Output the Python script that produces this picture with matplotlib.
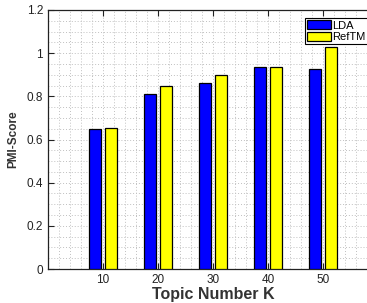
import numpy as np
from matplotlib import pyplot as plt
from matplotlib.ticker import MultipleLocator

topics = [10, 20, 30, 40, 50]
lda = [0.65, 0.81, 0.86, 0.935, 0.925]
reftm = [0.655, 0.847, 0.898, 0.935, 1.028]

plt.rcParams['font.family'] = ['Liberation Sans', 'DejaVu Sans']

fig = plt.figure(figsize=(3.67, 3.03), dpi=100)
# axes runs past the right edge, like the cropped original
ax = fig.add_axes([48 / 367, 1 - 269 / 303, 330 / 367, 259 / 303])

x = np.array(topics)
w = 2.25
ax.bar(x - 1.4, lda, w, color='#0000ff', edgecolor='black', linewidth=0.9, label='LDA', zorder=3)
ax.bar(x + 1.4, reftm, w, color='#ffff00', edgecolor='black', linewidth=0.9, label='RefTM', zorder=3)

ax.set_xlim(0, 60)
ax.set_ylim(0, 1.2)
ax.set_xticks(topics)
ax.set_yticks([0, 0.2, 0.4, 0.6, 0.8, 1.0, 1.2])
ax.set_yticklabels(['0', '0.2', '0.4', '0.6', '0.8', '1', '1.2'])
ax.xaxis.set_minor_locator(MultipleLocator(2))
ax.yaxis.set_minor_locator(MultipleLocator(0.05))
ax.grid(True, which='both', linestyle=(0, (1, 2)), color='#c0c0c0', linewidth=0.7, zorder=0)
ax.tick_params(which='major', direction='in', length=4, labelsize=8.5, color='#222222',
               top=True, right=True, labelcolor='#222222')
ax.tick_params(which='minor', length=0)
for s in ax.spines.values():
    s.set_color('#222222')
    s.set_linewidth(0.9)

ax.set_xlabel('Topic Number K', fontsize=11.5, fontweight='bold', color='#333333', labelpad=1)
ax.set_ylabel('PMI-Score', fontsize=8.5, fontweight='bold', color='#333333', labelpad=5)

leg = ax.legend(loc='upper left', bbox_to_anchor=(257 / 330, 1 - 8 / 259), fontsize=8,
                handlelength=2.1, handleheight=0.9, handletextpad=0.15,
                borderpad=0.2, labelspacing=0.1, fancybox=False, framealpha=1,
                edgecolor='black', borderaxespad=0)
leg.get_frame().set_linewidth(0.8)

plt.savefig('out.png', dpi=100)
